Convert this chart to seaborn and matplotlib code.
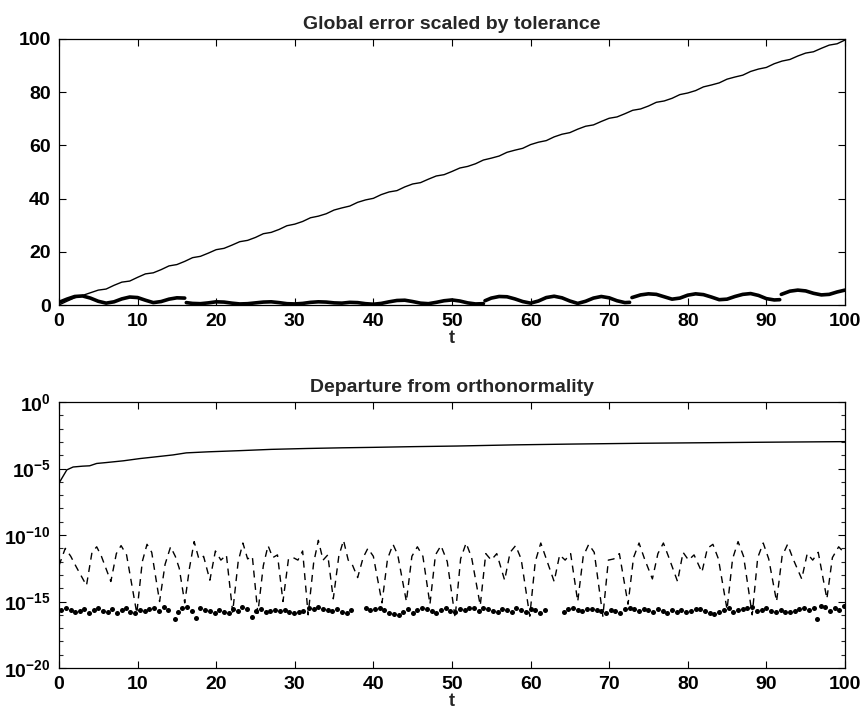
import matplotlib
matplotlib.use("Agg")
import numpy as np
import pandas as pd
import matplotlib.pyplot as plt
import seaborn as sns
from matplotlib.ticker import FixedLocator, NullFormatter, LogFormatterSciNotation

# ---- top panel: global error scaled by tolerance ----
top_t = list(range(101))
top_thin = [0.0, 1.4, 2.7, 3.6, 4.6, 5.6, 6.0, 7.4, 8.6, 9.0,
            10.4, 11.7, 12.1, 13.3, 14.7, 15.2, 16.4, 17.8, 18.3, 19.5,
            20.8, 21.3, 22.5, 23.8, 24.3, 25.4, 26.8, 27.3, 28.4, 29.8,
            30.4, 31.4, 32.8, 33.4, 34.3, 35.7, 36.5, 37.2, 38.6, 39.5,
            40.1, 41.5, 42.5, 43.0, 44.4, 45.5, 46.0, 47.3, 48.5, 49.0,
            50.2, 51.5, 52.1, 53.1, 54.5, 55.2, 56.0, 57.4, 58.2, 58.9,
            60.3, 61.2, 61.8, 63.2, 64.2, 64.8, 66.1, 67.2, 67.7, 69.0,
            70.2, 70.7, 71.9, 73.2, 73.7, 74.8, 76.2, 76.7, 77.7, 79.1,
            79.7, 80.6, 82.0, 82.7, 83.5, 84.9, 85.7, 86.4, 87.8, 88.7,
            89.3, 90.7, 91.7, 92.3, 93.6, 94.7, 95.2, 96.5, 97.7, 98.2,
            99.6]

# thick curve, drawn in pieces (it jumps at a few places)
thick_pieces = [
    ([0, 1, 2, 3, 4, 5, 6, 7, 8, 9, 10, 11, 12, 13, 14, 15, 16],
     [1.0, 2.2, 3.2, 3.4, 2.6, 1.4, 0.7, 1.2, 2.3, 3.0, 2.8, 1.8, 0.9, 1.3, 2.2, 2.7, 2.6]),
    ([16.2, 17, 18, 19, 20, 21, 22, 23, 24, 25, 26, 27, 28, 29, 30, 31, 32, 33, 34, 35,
      36, 37, 38, 39, 40, 41, 42, 43, 44, 45, 46, 47, 48, 49, 50, 51, 52, 53, 54],
     [0.9, 0.6, 0.5, 0.8, 1.2, 1.1, 0.7, 0.4, 0.5, 0.8, 1.1, 1.2, 0.9, 0.5, 0.4, 0.6, 1.0, 1.2, 1.1, 0.8,
      0.7, 1.0, 0.9, 0.5, 0.3, 0.6, 1.2, 1.7, 1.8, 1.3, 0.7, 0.5, 1.0, 1.6, 1.9, 1.5, 0.8, 0.4, 0.5]),
    ([54.2, 55, 56, 57, 58, 59, 60, 61, 62, 63, 64, 65, 66, 67, 68, 69, 70, 71, 72, 72.6],
     [1.6, 2.6, 3.2, 3.1, 2.3, 1.3, 0.7, 1.5, 2.8, 3.3, 2.7, 1.5, 0.6, 1.4, 2.6, 3.2, 2.7, 1.6, 0.9, 1.0]),
    ([72.9, 74, 75, 76, 77, 78, 79, 80, 81, 82, 83, 84, 85, 86, 87, 88, 89, 90, 91, 91.7],
     [2.8, 3.8, 4.2, 4.0, 3.1, 2.2, 2.6, 3.7, 4.2, 3.9, 3.0, 2.0, 2.2, 3.2, 4.0, 4.3, 3.6, 2.4, 1.9, 2.0]),
    ([91.9, 93, 94, 95, 96, 97, 98, 99, 100],
     [4.0, 5.2, 5.6, 5.3, 4.4, 3.8, 4.0, 4.9, 5.6]),
]

# ---- bottom panel: departure from orthonormality ----
solid_t = [0, 0.5, 1.0, 1.8, 3.0, 3.9, 4.8, 6, 8.2, 10.3, 12, 14.5, 16.2, 19, 23, 27,
           31.5, 36, 40, 45, 50.6, 58, 65.4, 74, 82.4, 90, 100]
solid_v = [7.9e-7, 2.5e-6, 7.9e-6, 1.3e-5, 1.5e-5, 1.6e-5, 2.4e-5, 2.8e-5, 3.8e-5, 5.6e-5,
           7.2e-5, 1.05e-4, 1.5e-4, 1.8e-4, 2.2e-4, 2.75e-4, 3.2e-4, 3.6e-4, 3.9e-4, 4.4e-4,
           4.9e-4, 6.0e-4, 6.9e-4, 7.9e-4, 8.7e-4, 9.5e-4, 1.05e-3]

dash_t = [0, 0.8, 1.5, 2.2, 3.5, 4.2, 4.8, 5.4, 6.6, 7.3, 7.9, 8.6, 9.9,
          10.6, 11.2, 11.8, 12.8, 13.5, 14.2, 14.8, 15.3, 16.0, 16.6, 17.2, 17.8, 18.4, 19.2,
          19.9, 20.6, 21.3, 22.1, 22.8, 23.4, 24.0, 24.6, 25.3, 26.0, 26.6, 27.2, 27.8, 28.5,
          29.2, 29.8, 30.4, 31.0, 31.7, 32.4, 33.0, 33.6, 34.2, 34.9, 35.6, 36.2, 36.8, 37.3, 38.0,
          38.7, 39.3, 40.0, 41.1, 41.8, 42.5, 43.1, 44.2, 44.9, 45.6, 46.3, 47.2,
          47.9, 48.6, 49.4, 50.4, 51.1, 51.8, 52.5, 53.6, 54.3, 55.0, 55.7, 56.7,
          57.4, 58.1, 58.8, 59.9, 60.6, 61.3, 62.0, 63.0, 63.7, 64.4, 65.1, 66.0,
          66.7, 67.4, 68.1, 69.2, 69.9, 70.6, 71.3, 72.4, 73.1, 73.8, 74.5, 75.5,
          76.2, 76.9, 77.6, 78.7, 79.4, 80.1, 80.8, 81.8, 82.5, 83.2, 83.9, 85.0,
          85.7, 86.4, 87.1, 88.2, 88.9, 89.6, 90.3, 91.3, 92.0, 92.7, 93.4, 94.5,
          95.2, 95.9, 96.6, 97.7, 98.4, 99.2, 100]
dash_v = [5e-13, 1e-11, 2.5e-12, 4e-13, 1.6e-14, 5e-12, 1.3e-11, 2.5e-12, 3.2e-14,
          4e-12, 1.6e-11, 3.2e-12, 1.3e-16,
          1e-12, 2e-11, 5e-12, 1e-15, 6.3e-13, 1.3e-11, 2.5e-12, 3.2e-13, 7.9e-16,
          3.2e-13, 3.2e-11, 1.6e-12, 2.5e-12, 4e-14,
          6.3e-12, 1.3e-12, 3.2e-12, 1.6e-16, 1e-12, 2.5e-11, 1.6e-12, 2.5e-12, 1.3e-16,
          5e-13, 1.6e-11, 2e-12, 3.2e-12, 1e-15,
          1.6e-12, 2e-12, 1.3e-12, 6.3e-12, 1e-16, 7.9e-13, 4e-11, 1.3e-12, 3.2e-12, 1.6e-15,
          2.5e-12, 4e-11, 1.3e-12, 6.3e-13, 6.3e-14,
          2e-12, 1e-11, 2.5e-12, 7.9e-16, 1.6e-12, 2e-11, 3.2e-12, 1e-15,
          2.5e-12, 1.3e-11, 2.5e-12, 6.3e-16,
          3.2e-12, 1.6e-11, 1e-12, 6.3e-17, 1.6e-12, 2.5e-11, 2e-12, 5e-16,
          4e-12, 1.3e-12, 4e-12, 4e-14,
          5e-12, 1.6e-11, 1.6e-12, 7.9e-17, 1e-12, 2.5e-11, 1.6e-12, 3.2e-14,
          3.2e-12, 1.3e-12, 4e-12, 1e-15,
          2.5e-12, 2e-11, 5e-12, 7.9e-17, 1.3e-12, 1.6e-12, 4e-12, 6.3e-16,
          2e-12, 2.5e-11, 1.6e-12, 5e-14,
          4e-12, 2.5e-11, 2e-12, 3.2e-14, 5e-12, 1.3e-12, 3.2e-12, 1.6e-13,
          1e-11, 2e-11, 1.6e-12, 2.5e-16,
          1.6e-12, 3.2e-11, 2.5e-12, 1e-16, 2e-12, 2.5e-11, 1.6e-12, 1e-15,
          2.5e-12, 2e-11, 1.6e-12, 5e-14,
          4e-12, 1.3e-12, 5e-12, 1.6e-15, 2e-12, 1.3e-11, 4e-12]

dot_t = [0.3, 0.9, 1.5, 2.1, 2.7, 3.2, 3.8, 4.4, 5.0, 5.6, 6.2, 6.8, 7.4, 8.0, 8.5, 9.1, 9.7,
         10.3, 10.9, 11.5, 12.1, 12.7, 13.3, 13.9, 14.7, 15.2, 15.7, 16.3, 16.9, 17.4, 18.0,
         18.6, 19.2, 19.8, 20.4, 21.0, 21.6, 22.2, 22.8, 23.3, 23.9, 24.5, 25.1, 25.7, 26.3,
         26.9, 27.5, 28.1, 28.7, 29.3, 29.9, 30.5, 31.1, 31.8, 32.4, 33.0, 33.6, 34.2, 34.8,
         35.4, 36.0, 36.6, 37.2, 39.0, 39.6, 40.2, 40.8, 41.4, 42.0, 42.6, 43.2, 43.8, 44.4,
         45.0, 45.6, 46.2, 46.8, 47.4, 48.0, 48.6, 49.2, 49.8, 50.4, 51.0, 51.6, 52.2, 52.8,
         53.4, 54.0, 54.6, 55.2, 55.8, 56.4, 57.0, 57.6, 58.2, 58.8, 59.4, 60.0, 60.6, 61.2,
         61.8, 64.3, 64.8, 65.4, 66.0, 66.6, 67.2, 67.8, 68.4, 69.0, 69.6, 70.2, 70.8, 71.4,
         72.0, 72.6, 73.2, 73.8, 74.4, 75.0, 75.6, 76.2, 76.8, 77.4, 78.0, 78.6, 79.2, 79.8,
         80.4, 81.0, 81.6, 82.2, 82.8, 83.4, 84.0, 84.6, 85.2, 85.8, 86.4, 87.0, 87.6, 88.2,
         88.8, 89.4, 90.0, 90.6, 91.2, 91.8, 92.4, 93.0, 93.6, 94.2, 94.8, 95.4, 96.0, 96.4,
         96.9, 97.5, 98.1, 98.7, 99.3, 99.9]
dot_v = [2.2e-16, 3.3e-16, 2.4e-16, 1.5e-16, 2.1e-16, 2.8e-16, 1.4e-16, 2.3e-16, 3.1e-16, 1.8e-16,
         1.5e-16, 2.6e-16, 1.3e-16, 2.2e-16, 3.2e-16, 1.6e-16, 1.3e-16, 2.5e-16, 1.8e-16, 2.9e-16,
         3.3e-16, 2.0e-16, 4.2e-16, 2.4e-16, 4.5e-17, 1.6e-16, 3.1e-16, 3.8e-16, 2.0e-16, 6.0e-17,
         3.0e-16, 2.3e-16, 1.8e-16, 1.3e-16, 2.3e-16, 1.7e-16, 1.3e-16, 2.6e-16, 2.0e-16, 3.6e-16,
         2.7e-16, 6.3e-17, 1.8e-16, 2.6e-16, 1.6e-16, 2.0e-16, 2.2e-16, 1.9e-16, 2.4e-16, 1.5e-16,
         1.4e-16, 1.5e-16, 1.9e-16, 3.4e-16, 2.6e-16, 3.6e-16, 2.8e-16, 2.2e-16, 1.8e-16, 2.7e-16,
         1.6e-16, 1.4e-16, 2.2e-16, 3.1e-16, 2.2e-16, 2.9e-16, 3.1e-16, 2.3e-16, 1.3e-16, 1.1e-16,
         9.0e-17, 1.7e-16, 2.6e-16, 1.4e-16, 2.2e-16, 3.3e-16, 2.7e-16, 2.0e-16, 1.4e-16, 2.4e-16,
         3.4e-16, 1.9e-16, 1.6e-16, 2.6e-16, 2.2e-16, 3.1e-16, 3.3e-16, 1.8e-16, 3.0e-16, 2.7e-16,
         1.8e-16, 1.5e-16, 2.7e-16, 2.3e-16, 1.6e-16, 3.1e-16, 2.4e-16, 1.6e-16, 2.9e-16, 2.4e-16,
         1.4e-16, 2.2e-16, 1.5e-16, 2.7e-16, 3.4e-16, 2.4e-16, 1.9e-16, 2.7e-16, 2.9e-16, 2.3e-16,
         1.8e-16, 1.4e-16, 2.2e-16, 1.8e-16, 1.4e-16, 2.6e-16, 3.4e-16, 2.7e-16, 2.1e-16, 2.7e-16,
         2.3e-16, 1.5e-16, 2.9e-16, 1.9e-16, 1.3e-16, 2.3e-16, 1.7e-16, 2.2e-16, 1.5e-16, 1.9e-16,
         2.6e-16, 2.8e-16, 2.0e-16, 1.4e-16, 1.2e-16, 1.7e-16, 2.5e-16, 3.0e-16, 1.6e-16, 2.2e-16,
         2.8e-16, 3.3e-16, 3.7e-16, 2.1e-16, 2.3e-16, 3.1e-16, 1.9e-16, 1.5e-16, 2.3e-16, 1.7e-16,
         1.5e-16, 2.0e-16, 2.7e-16, 3.1e-16, 2.5e-16, 3.3e-16, 4.5e-17, 5.0e-16, 3.7e-16, 2.1e-16,
         3.2e-16, 2.4e-16, 4.5e-16]

x_ticks = [0, 10, 20, 30, 40, 50, 60, 70, 80, 90, 100]
top_yticks = [0, 20, 40, 60, 80, 100]
log_major = [1e-20, 1e-15, 1e-10, 1e-5, 1e0]
log_minor = [10.0 ** -k for k in range(21)]

# ---- style ----
sns.set_theme(style="ticks")
plt.rcParams["font.family"] = ["Liberation Sans", "DejaVu Sans"]
plt.rcParams["font.weight"] = "bold"
plt.rcParams["axes.titleweight"] = "bold"
plt.rcParams["axes.labelweight"] = "bold"
plt.rcParams["mathtext.fontset"] = "custom"
plt.rcParams["mathtext.rm"] = "Liberation Sans:bold"
plt.rcParams["axes.linewidth"] = 0.9
plt.rcParams["axes.edgecolor"] = "black"

fig = plt.figure(figsize=(8.66, 7.18), dpi=100)
ax1 = fig.add_axes([0.0681, 0.5752, 0.9076, 0.3705])
ax2 = fig.add_axes([0.0681, 0.0696, 0.9076, 0.3705])

# top panel
thin_df = pd.DataFrame({"t": top_t, "err": top_thin})
sns.lineplot(data=thin_df, x="t", y="err", color="black", linewidth=1.0, ax=ax1)
rows = []
for k, (tt, vv) in enumerate(thick_pieces):
    for a, b in zip(tt, vv):
        rows.append({"t": a, "err": b, "piece": k})
thick_df = pd.DataFrame(rows)
sns.lineplot(data=thick_df, x="t", y="err", units="piece", estimator=None,
             color="black", linewidth=2.6, ax=ax1)

ax1.set_xlim(0, 100)
ax1.set_ylim(0, 100)
ax1.set_xticks(x_ticks)
ax1.set_yticks(top_yticks)
ax1.set_title("Global error scaled by tolerance", fontsize=14, pad=7)
ax1.set_xlabel("t", fontsize=13, labelpad=0)
ax1.set_ylabel("")

# bottom panel
sns.lineplot(x=solid_t, y=solid_v, color="black", linewidth=1.0, ax=ax2)
sns.lineplot(x=dash_t, y=dash_v, color="black", linewidth=1.0,
             linestyle=(0, (5, 4)), ax=ax2)
sns.scatterplot(x=dot_t, y=dot_v, color="black", s=13, linewidth=0, ax=ax2)

ax2.set_yscale("log")
ax2.set_xlim(0, 100)
ax2.set_ylim(1e-20, 1e0)
ax2.set_xticks(x_ticks)
ax2.yaxis.set_major_locator(FixedLocator(log_major))
ax2.yaxis.set_minor_locator(FixedLocator(log_minor))
ax2.yaxis.set_major_formatter(LogFormatterSciNotation())
ax2.yaxis.set_minor_formatter(NullFormatter())
ax2.set_title("Departure from orthonormality", fontsize=14, pad=7)
ax2.set_xlabel("t", fontsize=13, labelpad=0)
ax2.set_ylabel("")

for ax in (ax1, ax2):
    for s in ax.spines.values():
        s.set_visible(True)
        s.set_color("black")
    ax.tick_params(axis="both", which="major", direction="in", length=5, width=0.8,
                   top=True, right=True, labelsize=14, pad=6, colors="black")
    ax.tick_params(axis="both", which="minor", direction="in", length=3, width=0.8,
                   top=False, right=True, bottom=False)
    ax.grid(False)

fig.savefig("out.png", dpi=100, facecolor="white")
